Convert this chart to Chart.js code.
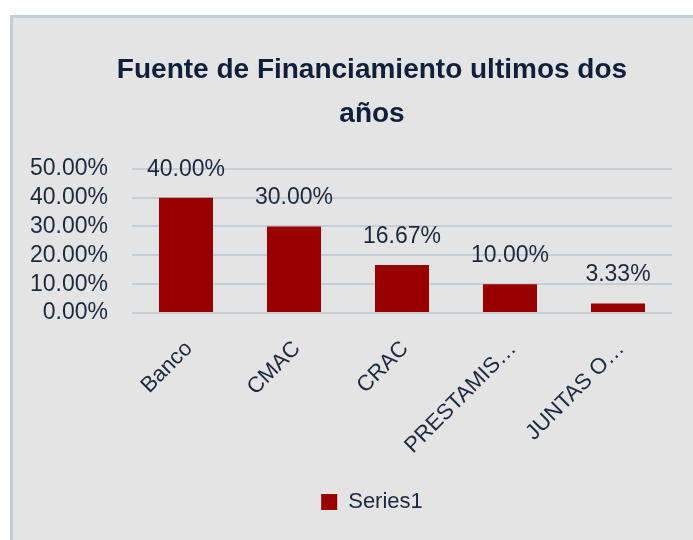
<!DOCTYPE html>
<html>
<head>
<meta charset="utf-8">
<script src="https://cdn.jsdelivr.net/npm/chart.js@4.4.1/dist/chart.umd.min.js"></script>
<style>
  html, body { margin: 0; padding: 0; background: #ffffff; overflow: hidden; width: 693px; height: 540px; }
  #panel {
    position: absolute; left: 10px; top: 15px; width: 722px; height: 525px;
    background: #e4e4e4; border-left: 3px solid #c5cdd7; border-top: 3px solid #c5cdd7;
  }
</style>
</head>
<body>
<div id="panel"><canvas id="bar-chart"></canvas></div>
<script>
const categories = ["Banco", "CMAC", "CRAC", "PRESTAMIS…", "JUNTAS O…"];
const seriesName = "Series1";
const values = [0.40, 0.30, 0.1667, 0.10, 0.0333];
const titleLines = ["Fuente de Financiamiento ultimos dos", "años"];

const textColor = "#1b2940";
const barColor = "#990000";
const fontFamily = "'Liberation Sans', Arial, sans-serif";
const pct = v => (v * 100).toFixed(2) + "%";

// draws the value above every bar, like Excel data labels
const valueLabels = {
  id: "valueLabels",
  afterDatasetsDraw(chart) {
    const ctx = chart.ctx;
    const meta = chart.getDatasetMeta(0);
    ctx.save();
    ctx.font = "23px " + fontFamily;
    ctx.fillStyle = textColor;
    ctx.textAlign = "center";
    ctx.textBaseline = "alphabetic";
    meta.data.forEach((bar, i) => {
      ctx.fillText(pct(values[i]), bar.x, bar.y - 22);
    });
    ctx.restore();
  }
};

const ctx = document.getElementById("bar-chart").getContext("2d");
new Chart(ctx, {
  type: "bar",
  data: {
    labels: categories,
    datasets: [{
      label: seriesName,
      data: values,
      backgroundColor: barColor,
      borderWidth: 0,
      barPercentage: 0.5,
      categoryPercentage: 1.0
    }]
  },
  options: {
    responsive: true,
    maintainAspectRatio: false,
    animation: false,
    layout: { padding: { left: 59, right: 63, top: 0, bottom: 20 } },
    plugins: {
      title: {
        display: true,
        text: titleLines,
        color: "#10203a",
        font: { size: 28, weight: "bold", family: fontFamily, lineHeight: 1.55 },
        padding: { top: 31, bottom: 33 }
      },
      legend: {
        display: true,
        position: "bottom",
        labels: {
          color: textColor,
          boxWidth: 16,
          boxHeight: 16,
          padding: 10,
          font: { size: 22, family: fontFamily }
        }
      },
      tooltip: { enabled: false }
    },
    scales: {
      x: {
        grid: { display: false, drawTicks: false },
        border: { display: false },
        afterFit: scale => { scale.height = 168; },
        ticks: {
          color: textColor,
          minRotation: 45,
          maxRotation: 45,
          padding: 23,
          labelOffset: 3,
          autoSkip: false,
          font: { size: 22, family: fontFamily }
        }
      },
      y: {
        min: 0,
        max: 0.5,
        afterFit: scale => { scale.width = 60; },
        grid: { color: "#c5cdd7", lineWidth: 2, drawTicks: false },
        border: { display: false },
        ticks: {
          stepSize: 0.1,
          autoSkip: false,
          mirror: true,
          crossAlign: "far",
          padding: -102,
          color: textColor,
          callback: v => pct(v),
          font: { size: 23, family: fontFamily }
        }
      }
    }
  },
  plugins: [valueLabels]
});
</script>
</body>
</html>
